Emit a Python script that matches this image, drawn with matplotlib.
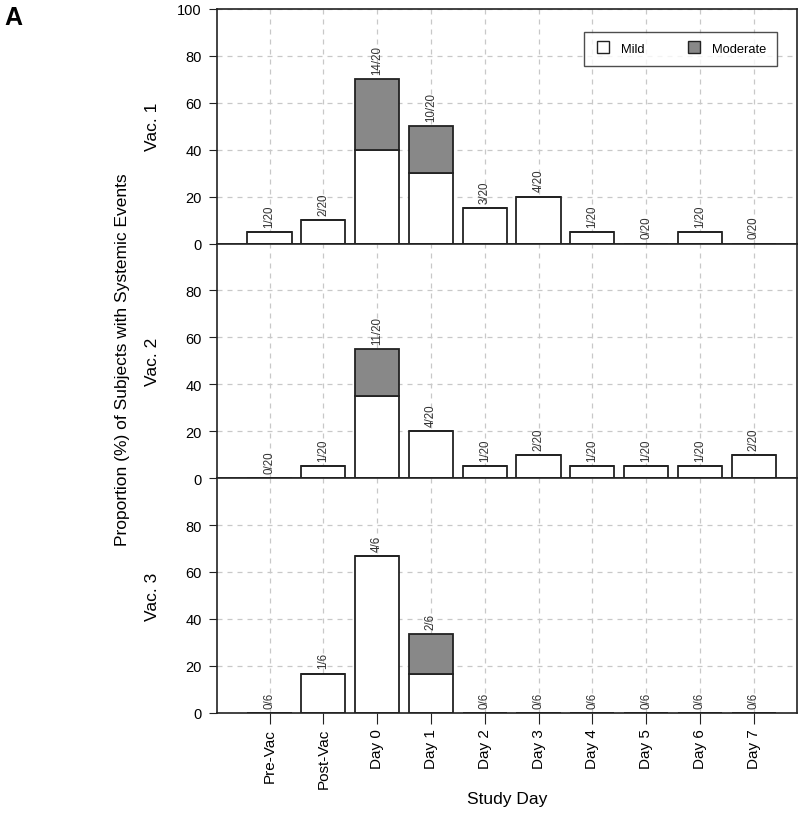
import matplotlib.pyplot as plt
import numpy as np

plt.rcParams['font.family'] = ['Liberation Sans', 'DejaVu Sans']

days = ['Pre-Vac', 'Post-Vac', 'Day 0', 'Day 1', 'Day 2', 'Day 3',
        'Day 4', 'Day 5', 'Day 6', 'Day 7']
panels = ['Vac. 1', 'Vac. 2', 'Vac. 3']

# percent of subjects, mild and moderate events
mild = [
    [5, 10, 40, 30, 15, 20, 5, 0, 5, 0],
    [0, 5, 35, 20, 5, 10, 5, 5, 5, 10],
    [0, 16.7, 66.7, 16.7, 0, 0, 0, 0, 0, 0],
]
moderate = [
    [0, 0, 30, 20, 0, 0, 0, 0, 0, 0],
    [0, 0, 20, 0, 0, 0, 0, 0, 0, 0],
    [0, 0, 0, 16.7, 0, 0, 0, 0, 0, 0],
]
counts = [
    ['1/20', '2/20', '14/20', '10/20', '3/20', '4/20', '1/20', '0/20', '1/20', '0/20'],
    ['0/20', '1/20', '11/20', '4/20', '1/20', '2/20', '1/20', '1/20', '1/20', '2/20'],
    ['0/6', '1/6', '4/6', '2/6', '0/6', '0/6', '0/6', '0/6', '0/6', '0/6'],
]

x = np.arange(len(days))
fig, axes = plt.subplots(3, 1, figsize=(8, 8.28), dpi=100, sharex=True,
                         gridspec_kw={'hspace': 0})
fig.subplots_adjust(left=0.271, right=0.996, top=0.988, bottom=0.138)

for i, ax in enumerate(axes):
    m = np.array(mild[i])
    mo = np.array(moderate[i])
    ax.set_axisbelow(True)
    ax.grid(True, linestyle=(0, (4, 4)), color='#c8c8c8', linewidth=0.9)
    ax.bar(x, m, width=0.82, color='white', edgecolor='#222222', linewidth=1.3)
    ax.bar(x, mo, width=0.82, bottom=m, color='#888888', edgecolor='#222222',
           linewidth=1.3)
    for xi, tot, lbl in zip(x, m + mo, counts[i]):
        ax.text(xi, tot + 2.2, lbl, rotation=90, ha='center', va='bottom',
                fontsize=8.3, color='#333333')
    ax.set_ylim(0, 100)
    ax.set_xlim(-0.98, 9.8)
    if i == 0:
        ax.set_yticks([0, 20, 40, 60, 80, 100])
    else:
        ax.set_yticks([0, 20, 40, 60, 80])
    ax.tick_params(axis='y', labelsize=10.5, length=6, pad=5, color='#222222')
    ax.set_ylabel(panels[i], fontsize=12.5)
    ax.yaxis.set_label_coords(-0.098, 0.5)
    for s in ax.spines.values():
        s.set_color('#222222')
        s.set_linewidth(1.2)
    if i < 2:
        ax.tick_params(axis='x', length=0)

axes[2].set_xticks(x)
axes[2].set_xticklabels(days, rotation=90, fontsize=11)
axes[2].tick_params(axis='x', length=8, pad=3, color='#222222')

fig.text(0.634, 0.034, 'Study Day', ha='center', va='center', fontsize=12.5)
fig.text(0.1525, 0.565, 'Proportion (%) of Subjects with Systemic Events',
         rotation=90, ha='center', va='center', fontsize=12.5)
fig.text(0.006, 0.978, 'A', fontsize=18, fontweight='bold', ha='left', va='center')

h1 = plt.Line2D([], [], marker='s', linestyle='none', markerfacecolor='white',
                markeredgecolor='#222222', markersize=8)
h2 = plt.Line2D([], [], marker='s', linestyle='none', markerfacecolor='#888888',
                markeredgecolor='#222222', markersize=8)
axes[0].legend([h1, h2], ['Mild', 'Moderate'], loc='upper right', ncol=2,
               bbox_to_anchor=(0.966, 0.902), fontsize=9.3, frameon=True,
               fancybox=False, edgecolor='#222222', columnspacing=3.2,
               handletextpad=0.8, borderpad=0.85, handlelength=1.2,
               borderaxespad=0)

fig.savefig('out.png', dpi=100)
